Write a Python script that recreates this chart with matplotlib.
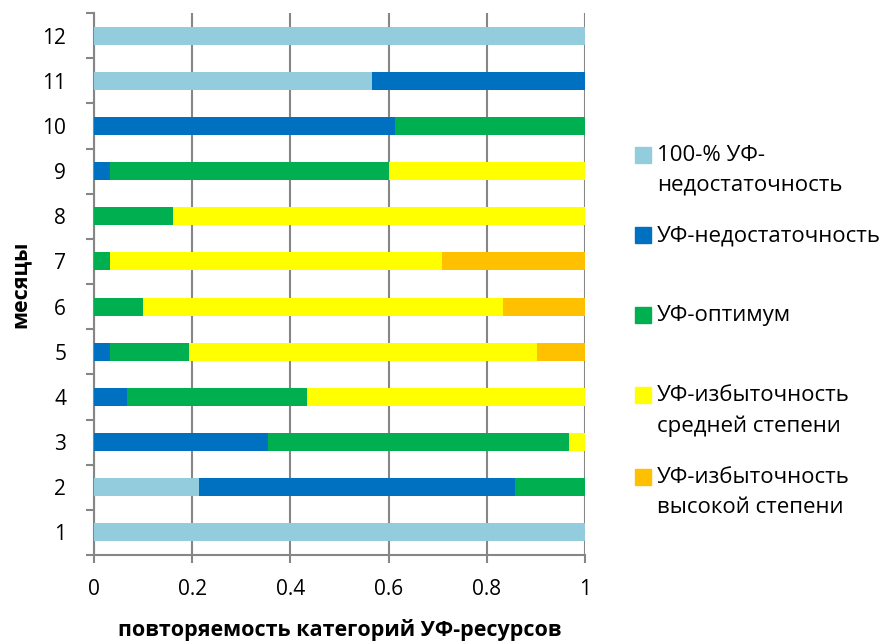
import matplotlib
matplotlib.use("Agg")
import matplotlib.pyplot as plt
import numpy as np
from matplotlib.patches import Rectangle

plt.rcParams['font.family'] = ['Open Sans', 'DejaVu Sans']

months = [str(m) for m in range(1, 13)]
series_names = ['100-% УФ-\nнедостаточность', 'УФ-недостаточность', 'УФ-оптимум',
                'УФ-избыточность\nсредней степени', 'УФ-избыточность\nвысокой степени']
colors = ['#93CDDD', '#0070C0', '#00B050', '#FFFF00', '#FFC000']

# доли по месяцам 1..12
full_lack = [1.0, 0.214, 0, 0, 0, 0, 0, 0, 0, 0, 0.567, 1.0]
lack = [0, 0.643, 0.355, 0.067, 0.032, 0, 0, 0, 0.033, 0.613, 0.433, 0]
optimum = [0, 0.143, 0.613, 0.366, 0.161, 0.1, 0.032, 0.161, 0.567, 0.387, 0, 0]
excess_mid = [0, 0, 0.032, 0.567, 0.71, 0.733, 0.677, 0.839, 0.4, 0, 0, 0]
excess_high = [0, 0, 0, 0, 0.097, 0.167, 0.29, 0, 0, 0, 0, 0]
data = [full_lack, lack, optimum, excess_mid, excess_high]

fig = plt.figure(figsize=(8.88, 6.44), dpi=100)
ax = fig.add_axes([94/888, 1-555/644, (585-94)/888, (555-13)/644])

y = np.arange(len(months))
left = np.zeros(len(months))
for vals, c in zip(data, colors):
    ax.barh(y, vals, left=left, height=0.4, color=c, zorder=3)
    left += np.array(vals)

grid_c = '#868686'
fs = 15
ax.set_xlim(0, 1)
ax.set_ylim(-0.5, len(months) - 0.5)
ax.set_xticks([0, 0.2, 0.4, 0.6, 0.8, 1])
ax.set_xticklabels(['0', '0.2', '0.4', '0.6', '0.8', '1'], fontsize=fs)
ax.set_yticks(y)
ax.set_yticklabels(months, fontsize=fs)
ax.set_yticks(np.arange(-0.5, len(months)), minor=True)
ax.tick_params(axis='y', which='major', length=0, pad=20)
ax.tick_params(axis='y', which='minor', length=6, color=grid_c, width=1.5)
ax.tick_params(axis='x', length=6, color=grid_c, width=1.5, pad=11)
ax.grid(axis='x', color=grid_c, linewidth=1.5, zorder=0)
for s in ['top', 'right']:
    ax.spines[s].set_visible(False)
for s in ['left', 'bottom']:
    ax.spines[s].set_color(grid_c)
    ax.spines[s].set_linewidth(1.5)

ax.set_xlabel('повторяемость категорий УФ-ресурсов', fontsize=15.5, fontweight='bold', labelpad=14)
ax.set_ylabel('месяцы', fontsize=15.5, fontweight='bold', labelpad=8)

# легенда
leg_y = [155, 235, 315, 395, 477]
for name, c, yy in zip(series_names, colors, leg_y):
    fig.patches.append(Rectangle((635/888, 1 - (yy + 8)/644), 16/888, 16/644,
                                 transform=fig.transFigure, color=c))
    fig.text(657/888, 1 - (yy - 10)/644, name, fontsize=16, va='top', ha='left',
             linespacing=1.55)

fig.savefig('out.png', dpi=100)
